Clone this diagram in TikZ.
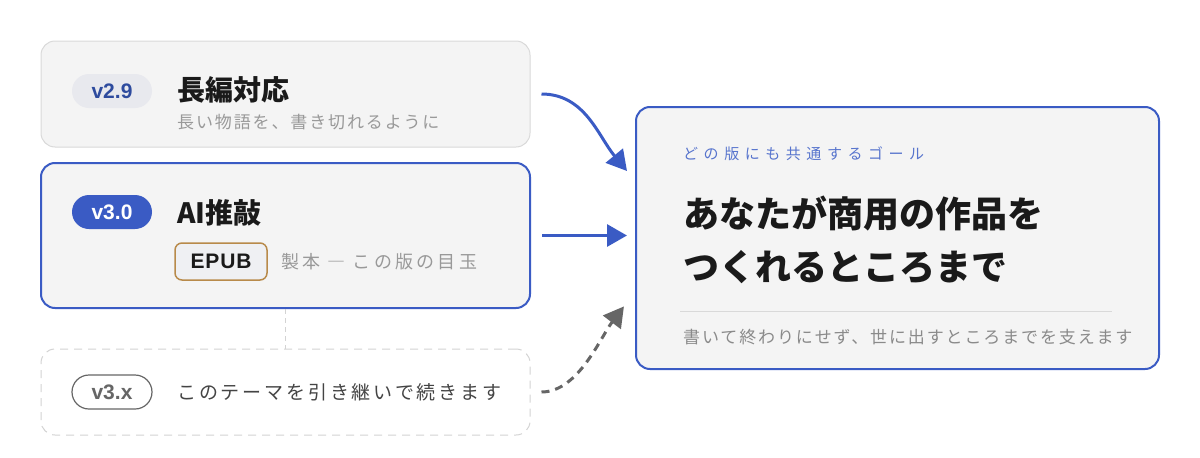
\documentclass[tikz,border=0pt]{standalone}
\usepackage{fontspec}
\setmainfont{Noto Sans CJK JP}
\newfontfamily\latinsans{Liberation Sans}
\newfontfamily\latinwide[LetterSpace=4]{Liberation Sans}
\newfontfamily\spacedjp[LetterSpace=11]{Noto Sans CJK JP}
\newfontfamily\loosejp[LetterSpace=15]{Noto Sans CJK JP}
\newfontfamily\looserjp[LetterSpace=18]{Noto Sans CJK JP}
\newfontfamily\widejp[LetterSpace=37]{Noto Sans CJK JP}
\usetikzlibrary{arrows.meta,positioning}
\definecolor{cardfill}{HTML}{F4F4F4}
\definecolor{cardline}{HTML}{D9D9D9}
\definecolor{accent}{HTML}{3A5BC4}
\definecolor{pillgray}{HTML}{E8E9EE}
\definecolor{pilltext}{HTML}{2E4B9E}
\definecolor{tagline}{HTML}{B88A4A}
\definecolor{inkdark}{HTML}{1A1A1A}
\definecolor{inkgray}{HTML}{999999}
\definecolor{inkmid}{HTML}{444444}
\definecolor{dashgray}{HTML}{D3D3D3}
\definecolor{arrowgray}{HTML}{666666}
\tikzset{
	card/.style     = {draw=cardline, fill=cardfill, line width=1pt, rounded corners=14pt,
		minimum width=489pt},
	cardon/.style   = {card, draw=accent, line width=2pt},
	cardnext/.style = {card, draw=dashgray, fill=white, dash pattern=on 8pt off 6pt},
	pill/.style     = {rounded corners=17pt, minimum width=80pt, minimum height=34pt,
		inner sep=0pt, font=\latinsans\fontsize{21}{24}\selectfont\bfseries},
	title/.style    = {anchor=west, inner sep=0pt, text=inkdark,
		font=\fontsize{28}{32}\selectfont\bfseries},
	note/.style     = {anchor=west, inner sep=0pt, text=inkgray,
		font=\spacedjp\fontsize{17}{20}\selectfont},
	flow/.style     = {line width=3pt, draw=accent,
		-{Triangle[length=20pt,width=22pt]}},
	later/.style    = {line width=3pt, draw=arrowgray, dash pattern=on 8pt off 6pt,
		-{Triangle[length=20pt,width=22pt,sep]}}
}

\begin{document}
\begin{tikzpicture}[x=1pt, y=-1pt]
	\useasboundingbox (0,0) rectangle (1200,458);
	% version cards
	\draw
	node at (285.5,94) [card, minimum height=106pt] (c29) {}
	node at (285.5,235.5) [cardon, minimum height=145pt] (c30) {}
	node at (285.5,392) [cardnext, minimum height=86pt] (c3x) {}
	node at (897.5,238) [cardon, minimum width=523pt, minimum height=262pt] (goal) {}
	;
	\draw[dashgray, line width=1.5pt, dash pattern=on 5pt off 4pt] (c30.south) -- (c3x.north);
	% v2.9
	\draw
	node at (112,91) [pill, fill=pillgray, text=pilltext] (p29) {v2.9}
	node at (177,90) [title] (t29) {長編対応}
	node at (177,122) [note] (n29) {長い物語を、書き切れるように}
	;
	% v3.0
	\draw
	node at (112,212) [pill, fill=accent, text=white] (p30) {v3.0}
	node at (221,261.5) [draw=tagline, line width=1.5pt, fill=pillgray!70!white, rounded corners=7pt,
		minimum width=92pt, minimum height=37pt, inner sep=0pt, text=inkdark,
		font=\latinwide\fontsize{21}{24}\selectfont\bfseries] (epub) {EPUB}
	node at (177,213) [title] (t30) {AI推敲}
	node at (281,262) [note, font=\looserjp\fontsize{18}{21}\selectfont] (n30) {製本 ― この版の目玉}
	;
	% v3.x
	\draw
	node at (112,392) [pill, draw=arrowgray, line width=1.2pt, fill=white, text=arrowgray] (p3x) {v3.x}
	node at (177,392) [anchor=west, inner sep=0pt, text=inkmid,
		font=\loosejp\fontsize{19}{22}\selectfont] (n3x) {このテーマを引き継いで続きます}
	;
	% goal
	\draw
	node at (683,154) [anchor=west, inner sep=0pt, text=accent!85!white,
		font=\widejp\fontsize{15}{18}\selectfont] (glabel) {どの版にも共通するゴール}
	node at (683,214) [title, font=\fontsize{36}{40}\selectfont\bfseries] (gline1) {あなたが商用の作品を}
	node at (683,267) [title, font=\fontsize{36}{40}\selectfont\bfseries] (gline2) {つくれるところまで}
	node at (683,337) [note, text=inkgray!90!black] (gnote) {書いて終わりにせず、世に出すところまでを支えます}
	;
	\draw[cardline, line width=1pt] (680,311) coordinate (rulea) -- (1112,311) coordinate (ruleb);
	% connectors
	\coordinate (tip1) at (627,171);
	\coordinate (tip2) at (627,235.5);
	\coordinate (tip3) at (625,305);
	\draw[flow, shorten <=11pt] (c29.east) .. controls (585,94) and (598,136) .. (tip1);
	\draw[flow, shorten <=11pt] (c30.east) -- (tip2);
	\draw[later, shorten <=11pt] (c3x.east) .. controls (578,392) and (600,338) .. (tip3);
\end{tikzpicture}
\end{document}
